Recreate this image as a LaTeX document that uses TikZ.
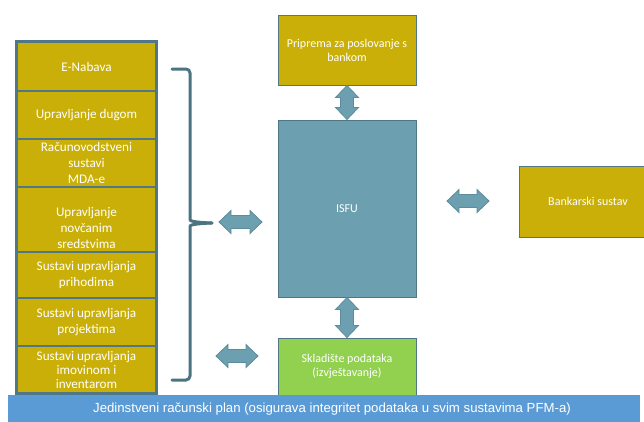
\documentclass[tikz,border=0pt]{standalone}
\usepackage{fontspec}
\newfontfamily\carl{Carlito}
\newfontfamily\lsans{Liberation Sans}
\usetikzlibrary{calc}
\definecolor{gold}{HTML}{C9AF07}
\definecolor{tealf}{HTML}{6C9FAF}
\definecolor{bord}{HTML}{4F7785}
\definecolor{bracec}{HTML}{4A7482}
\definecolor{greenf}{HTML}{92D050}
\definecolor{bannerf}{HTML}{5B9BD5}
\definecolor{arrowb}{HTML}{5C8C9B}
\tikzset{
  cell/.style={draw=bord, line width=1.5pt, fill=gold, minimum width=139pt, inner sep=0pt, text=white, align=center, font=\carl\fontsize{13.2}{15.5}\selectfont},
  celltext/.style={text=white, align=center, inner sep=0pt, font=\carl\fontsize{13.2}{16}\selectfont},
  bigbox/.style={draw=bord, line width=1pt, minimum width=138pt, inner sep=0pt, text=white, align=center, font=\carl\fontsize{12}{14}\selectfont},
  darr/.style={fill=tealf, draw=arrowb, line width=0.8pt, line join=miter},
  bracestyle/.style={draw=bracec, line width=3pt, line cap=round, line join=round},
}
\newcommand\vdarrow[2]{\path[darr] let \p1=(#1), \p2=(#2) in
  (\x1,\y1) -- (\x1-11.5pt,\y1-12pt) -- (\x1-6.5pt,\y1-12pt) -- (\x1-6.5pt,\y2+12pt) -- (\x1-11.5pt,\y2+12pt) -- (\x1,\y2)
  -- (\x1+11.5pt,\y2+12pt) -- (\x1+6.5pt,\y2+12pt) -- (\x1+6.5pt,\y1-12pt) -- (\x1+11.5pt,\y1-12pt) -- cycle;}
\newcommand\hdarrow[2]{\path[darr] let \p1=(#1), \p2=(#2) in
  (\x1,\y1) -- (\x1+12pt,\y1+11.5pt) -- (\x1+12pt,\y1+6.5pt) -- (\x2-12pt,\y1+6.5pt) -- (\x2-12pt,\y1+11.5pt) -- (\x2,\y1)
  -- (\x2-12pt,\y1-11.5pt) -- (\x2-12pt,\y1-6.5pt) -- (\x1+12pt,\y1-6.5pt) -- (\x1+12pt,\y1-11.5pt) -- cycle;}
\begin{document}
\begin{tikzpicture}[x=1pt,y=-1pt]
\useasboundingbox (0,0) rectangle (644,421);
\fill[white] (0,0) rectangle (644,421);
% left column cells
\node[cell, minimum height=49pt] (c1) at (86.5,66.5) {E-Nabava};
\node[cell, minimum height=48pt] (c2) at (86.5,115) {Upravljanje dugom};
\node[cell, minimum height=48pt] (c3) at (86.5,163) {};
\node[celltext] (t3) at (c3.center) {Računovodstveni\\sustavi\\MDA-e};
\node[cell, minimum height=65pt] (c4) at (86.5,219.5) {};
\node[celltext] (t4) at ([yshift=-8.5pt]c4.center) {Upravljanje\\novčanim\\sredstvima};
\node[cell, minimum height=46pt] (c5) at (86.5,275) {Sustavi upravljanja\\prihodima};
\node[cell, minimum height=48pt] (c6) at (86.5,322) {Sustavi upravljanja\\projektima};
\node[cell, minimum height=47pt] (c7) at (86.5,369.5) {};
\node[celltext, font=\carl\fontsize{13.2}{13.8}\selectfont] (t7) at ([yshift=-0.5pt]c7.center) {Sustavi upravljanja\\imovinom i\\inventarom};
\draw[bord, line width=2pt] (c1.north west) rectangle (c7.south east);
% brace
\draw[bracestyle, rounded corners=4pt] (172,69) -- (190,69) -- (190,216)
  .. controls (190,221) and (196,222.5) .. (212,223);
\draw[bracestyle, rounded corners=4pt] (212,223)
  .. controls (196,223.5) and (190,225) .. (190,230) -- (190,380) -- (172,380);
% right boxes
\node[bigbox, fill=gold, minimum height=70pt] (pri) at (347,50) {Priprema za poslovanje s\\bankom};
\node[bigbox, fill=tealf, minimum height=177pt] (isfu) at (347,208.5) {ISFU};
\node[bigbox, fill=greenf, minimum height=57pt] (skl) at (347,366.5) {Skladište podataka\\(izvještavanje)};
\node[bigbox, fill=gold, minimum height=71pt] (bank) at (588,201.5) {Bankarski sustav};
% arrows
\coordinate (a1l) at (219,222);
\coordinate (a1r) at (262,222);
\coordinate (a2l) at (216,356);
\coordinate (a2r) at (258,356);
\coordinate (a3l) at (447,201);
\coordinate (a3r) at (489,201);
\vdarrow{pri.south}{isfu.north}
\vdarrow{isfu.south}{skl.north}
\hdarrow{a1l}{a1r}
\hdarrow{a2l}{a2r}
\hdarrow{a3l}{a3r}
% banner
\node[fill=bannerf, minimum width=632pt, minimum height=27pt, inner sep=0pt, anchor=north west] (banner) at (8,395) {};
\node[text=white, inner sep=0pt, font=\lsans\fontsize{13.2}{15}\selectfont] (btext) at (332,409.5)
  {Jedinstveni računski plan (osigurava integritet podataka u svim sustavima PFM-a)};
\end{tikzpicture}
\end{document}
